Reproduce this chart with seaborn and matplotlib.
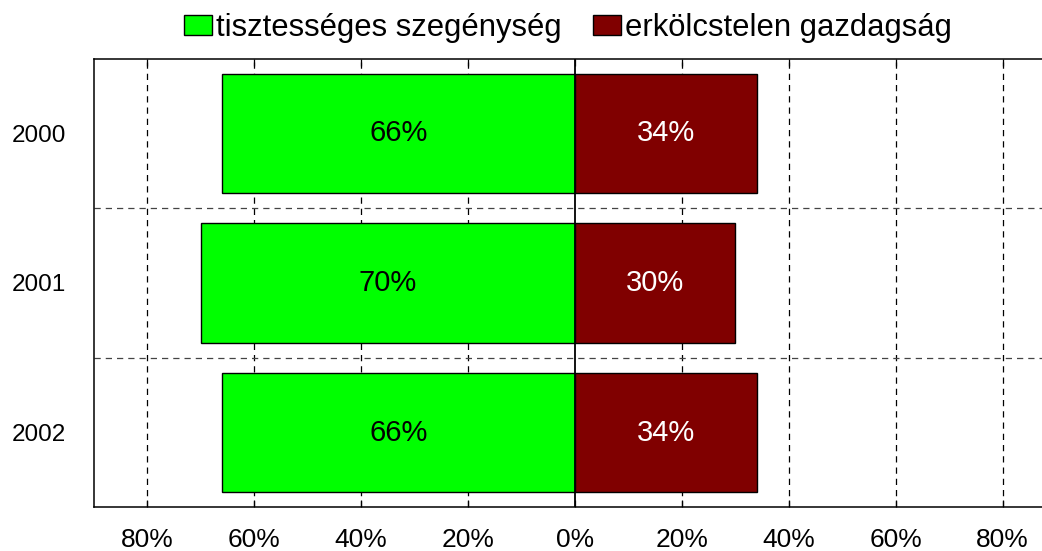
import pandas as pd
import matplotlib
matplotlib.use("Agg")
import matplotlib.pyplot as plt
from matplotlib.patches import Patch
from matplotlib.ticker import FuncFormatter, FixedLocator
import seaborn as sns

years = ['2000', '2001', '2002']
poverty = [66, 70, 66]   # tisztességes szegénység
wealth = [34, 30, 34]    # erkölcstelen gazdagság
series_names = ['tisztességes szegénység', 'erkölcstelen gazdagság']
colors = ['#00FF00', '#800000']
xticks = [-80, -60, -40, -20, 0, 20, 40, 60, 80]

df = pd.DataFrame({
    'year': years * 2,
    'value': [-v for v in poverty] + wealth,
    'series': [series_names[0]] * 3 + [series_names[1]] * 3,
})

sns.set_style("ticks")
plt.rcParams['font.family'] = ['Liberation Sans', 'DejaVu Sans']
plt.rcParams['text.color'] = 'black'
plt.rcParams['xtick.color'] = 'black'
plt.rcParams['ytick.color'] = 'black'
plt.rcParams['xtick.labelcolor'] = 'black'
plt.rcParams['ytick.labelcolor'] = 'black'

fig = plt.figure(figsize=(10.42, 5.51), dpi=100)
ax = fig.add_axes([0.0899, 0.0793, 0.9235, 0.8142])

sns.barplot(data=df, x='value', y='year', hue='series', order=years,
            hue_order=series_names, palette=colors, saturation=1,
            dodge=False, width=0.8, edgecolor='black', linewidth=1,
            legend=False, ax=ax, zorder=2)

ax.set_xlim(-90, 90)
ax.set_xlabel('')
ax.set_ylabel('')

# value labels inside the bars
ax.bar_label(ax.containers[0], labels=[f'{v}%' for v in poverty],
             label_type='center', fontsize=21, color='black')
ax.bar_label(ax.containers[1], labels=[f'{v}%' for v in wealth],
             label_type='center', fontsize=21, color='white')

# grid
ax.xaxis.set_major_locator(FixedLocator(xticks))
ax.xaxis.set_major_formatter(FuncFormatter(lambda x, p: f'{abs(x):.0f}%'))
for x in xticks:
    if x == 0:
        ax.axvline(0, color='black', lw=1.3, zorder=4)
    else:
        ax.axvline(x, color='black', lw=0.9, ls=(0, (5, 4)), zorder=1)
for y in [0.5, 1.5]:
    ax.axhline(y, color='#444444', lw=0.9, ls=(0, (5, 4)), zorder=1)

ax.tick_params(axis='x', direction='in', top=True, bottom=True, length=5,
               width=0.9, pad=15, labelsize=19, colors='black')
ax.tick_params(axis='y', length=0, pad=20, labelsize=17.5, colors='black')
for s in ax.spines.values():
    s.set_color('black')
    s.set_linewidth(1.1)

handles = [Patch(facecolor=c, edgecolor='black', linewidth=1) for c in colors]
ax.legend(handles, series_names, loc='center', bbox_to_anchor=(0.493, 1.068),
          ncol=2, frameon=False, fontsize=22.3, handlelength=0.9,
          handleheight=0.6, handletextpad=0.15, columnspacing=1.0,
          borderaxespad=0, labelcolor='black')

fig.savefig('out.png', dpi=100)
